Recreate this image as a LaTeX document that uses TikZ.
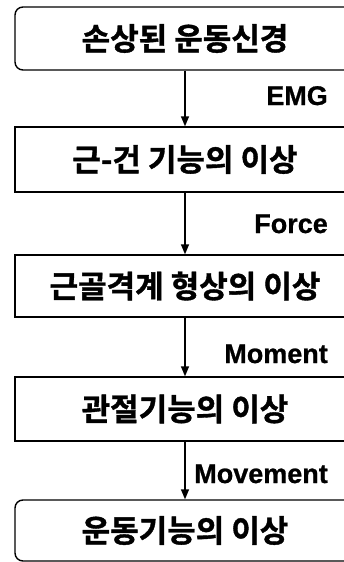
\documentclass[tikz,border=0pt]{standalone}
\usepackage{fontspec}
\newfontfamily\kr[BoldFont={Noto Sans CJK KR Bold},BoldFeatures={FakeBold=1.2}]{Noto Sans CJK KR}
\newfontfamily\lab[BoldFeatures={FakeBold=0.8}]{Liberation Sans}
\usetikzlibrary{arrows.meta}
\begin{document}
\begin{tikzpicture}[x=1pt,y=-1pt,
  box/.style={draw,line width=1.4pt,minimum width=340pt,inner sep=0pt,
    font=\kr\bfseries\fontsize{31}{33}\selectfont,anchor=center},
  rbox/.style={box,rounded corners=8pt},
  lbl/.style={font=\lab\bfseries\fontsize{27}{28}\selectfont,anchor=base east,inner sep=0pt},
  conn/.style={line width=1.4pt,-{Triangle[length=10pt,width=8pt]}}]
\useasboundingbox (0,0) rectangle (343,562);
\node[rbox,minimum height=63pt] (b1) at (185,38.5) {손상된 운동신경};
\node[box,minimum height=65pt] (b2) at (185,159.5) {근-건 기능의 이상};
\node[box,minimum height=62pt] (b3) at (185,286) {근골격계 형상의 이상};
\node[box,minimum height=64pt] (b4) at (185,409) {관절기능의 이상};
\node[rbox,minimum height=61pt] (b5) at (185,530.5) {운동기능의 이상};
\draw[conn] (b1) -- (b2);
\draw[conn] (b2) -- (b3);
\draw[conn] (b3) -- (b4);
\draw[conn] (b4) -- (b5);
\node[lbl] (l1) at (328,105) {EMG};
\node[lbl] (l2) at (328,233) {Force};
\node[lbl] (l3) at (328,363) {Moment};
\node[lbl] (l4) at (328,483) {Movement};
\end{tikzpicture}
\end{document}
